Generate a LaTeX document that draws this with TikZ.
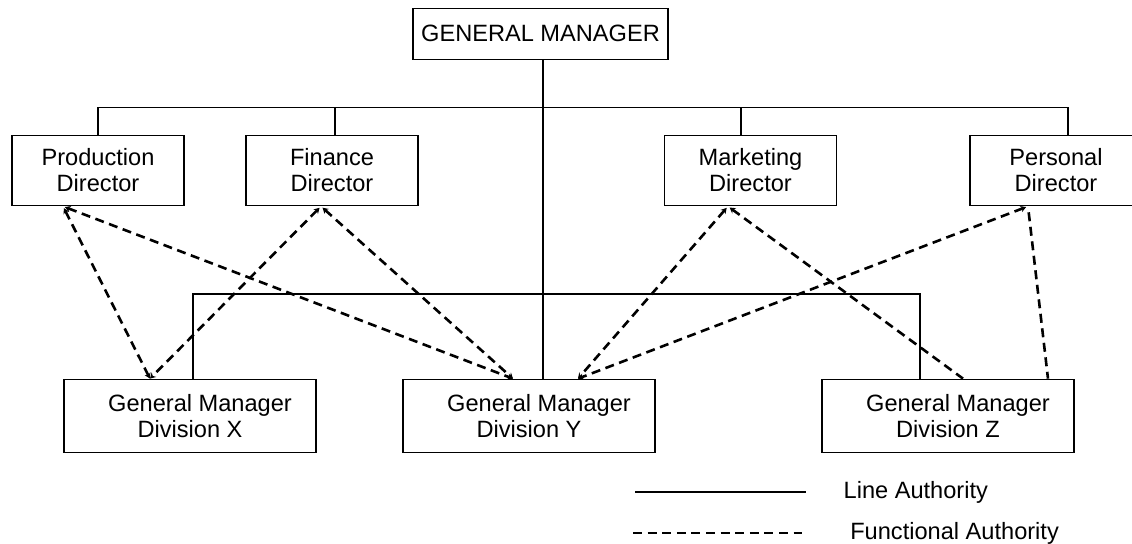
\documentclass[tikz,border=0pt]{standalone}
\usepackage{fontspec}
\setmainfont{Liberation Sans}
\usetikzlibrary{arrows.meta}

\begin{document}
\begin{tikzpicture}[x=0.5pt, y=0.5pt, line width=0.65pt, >={Stealth[length=2.8pt,width=3.2pt]},
        font=\fontsize{11.8}{13}\selectfont,
        box/.style={draw, rectangle, align=center, inner sep=0pt},
        boss/.style={box, minimum width=127.5pt, minimum height=25.5pt},
        director/.style={box, minimum width=86pt, minimum height=35.2pt},
        division/.style={box, minimum width=126pt, minimum height=36.7pt},
        funcline/.style={dash pattern=on 4.5pt off 2.8pt, line width=1.3pt},
        functional/.style={funcline, shorten <=1pt}]
        \useasboundingbox (0,0) rectangle (1132,544);

        \node[boss] (gm) at (540.5,510.2) {GENERAL MANAGER};
        \node[director] (prod) at (98,373.5) {Production\\Director};
        \node[director] (fin) at (332,373.5) {Finance\\Director};
        \node[director] (mkt) at (750.5,373.5) {Marketing\\Director};
        \node[director] (pers) at (1056,373.5) {Personal\\Director};
        \node[division] (divx) at (190,128) {\hspace*{10pt}General Manager\\Division X};
        \node[division] (divy) at (529,128) {\hspace*{10pt}General Manager\\Division Y};
        \node[division] (divz) at (948,128) {\hspace*{10pt}General Manager\\Division Z};

        % line authority
        \coordinate (topbus) at (543,436.7);
        \coordinate (lowbus) at (543,250);
        \draw ([xshift=1.25pt]gm.south) -- ([xshift=1.25pt]gm.south |- divy.north);
        \draw (prod.north) -- (prod.north |- topbus) -- ([xshift=6pt]pers.north |- topbus) -- ([xshift=6pt]pers.north);
        \draw ([xshift=1.5pt]fin.north) -- ([xshift=1.5pt]fin.north |- topbus);
        \draw ([xshift=-4.75pt]mkt.north) -- ([xshift=-4.75pt]mkt.north |- topbus);
        \draw ([xshift=1.5pt]divx.north) -- ([xshift=1.5pt]divx.north |- lowbus) -- ([xshift=-14pt]divz.north |- lowbus) -- ([xshift=-14pt]divz.north);

        % functional authority
        \path[functional]
              ([xshift=-17.5pt]prod.south) edge[<->] ([xshift=-20pt]divx.north)
              ([xshift=-17.5pt]prod.south) edge[<->] ([xshift=-8pt]divy.north)
              ([xshift=-5.5pt]fin.south) edge[<->] ([xshift=-20pt]divx.north)
              ([xshift=-5.5pt]fin.south) edge[<->] ([xshift=-8pt]divy.north)
              ([xshift=-11.25pt]mkt.south) edge[<->] ([xshift=24.5pt]divy.north)
              ([xshift=-11.25pt]mkt.south) edge[<-] ([xshift=7.5pt]divz.north)
              ([xshift=-14pt]pers.south) edge[<->] ([xshift=24.5pt]divy.north)
              ([xshift=-14pt]pers.south) edge[shorten <=3pt] ([xshift=50pt]divz.north);

        % legend
        \coordinate (linea) at (635,52);
        \coordinate (lineb) at (806,52);
        \coordinate (funca) at (633,11);
        \coordinate (funcb) at (802,11);
        \draw (linea) -- (lineb) node[anchor=west, inner sep=0pt, xshift=18.5pt] (linelbl) {Line Authority};
        \draw[funcline] (funca) -- (funcb) node[anchor=west, inner sep=0pt, xshift=23.5pt] (funclbl) {Functional Authority};
    \end{tikzpicture}
\end{document}
